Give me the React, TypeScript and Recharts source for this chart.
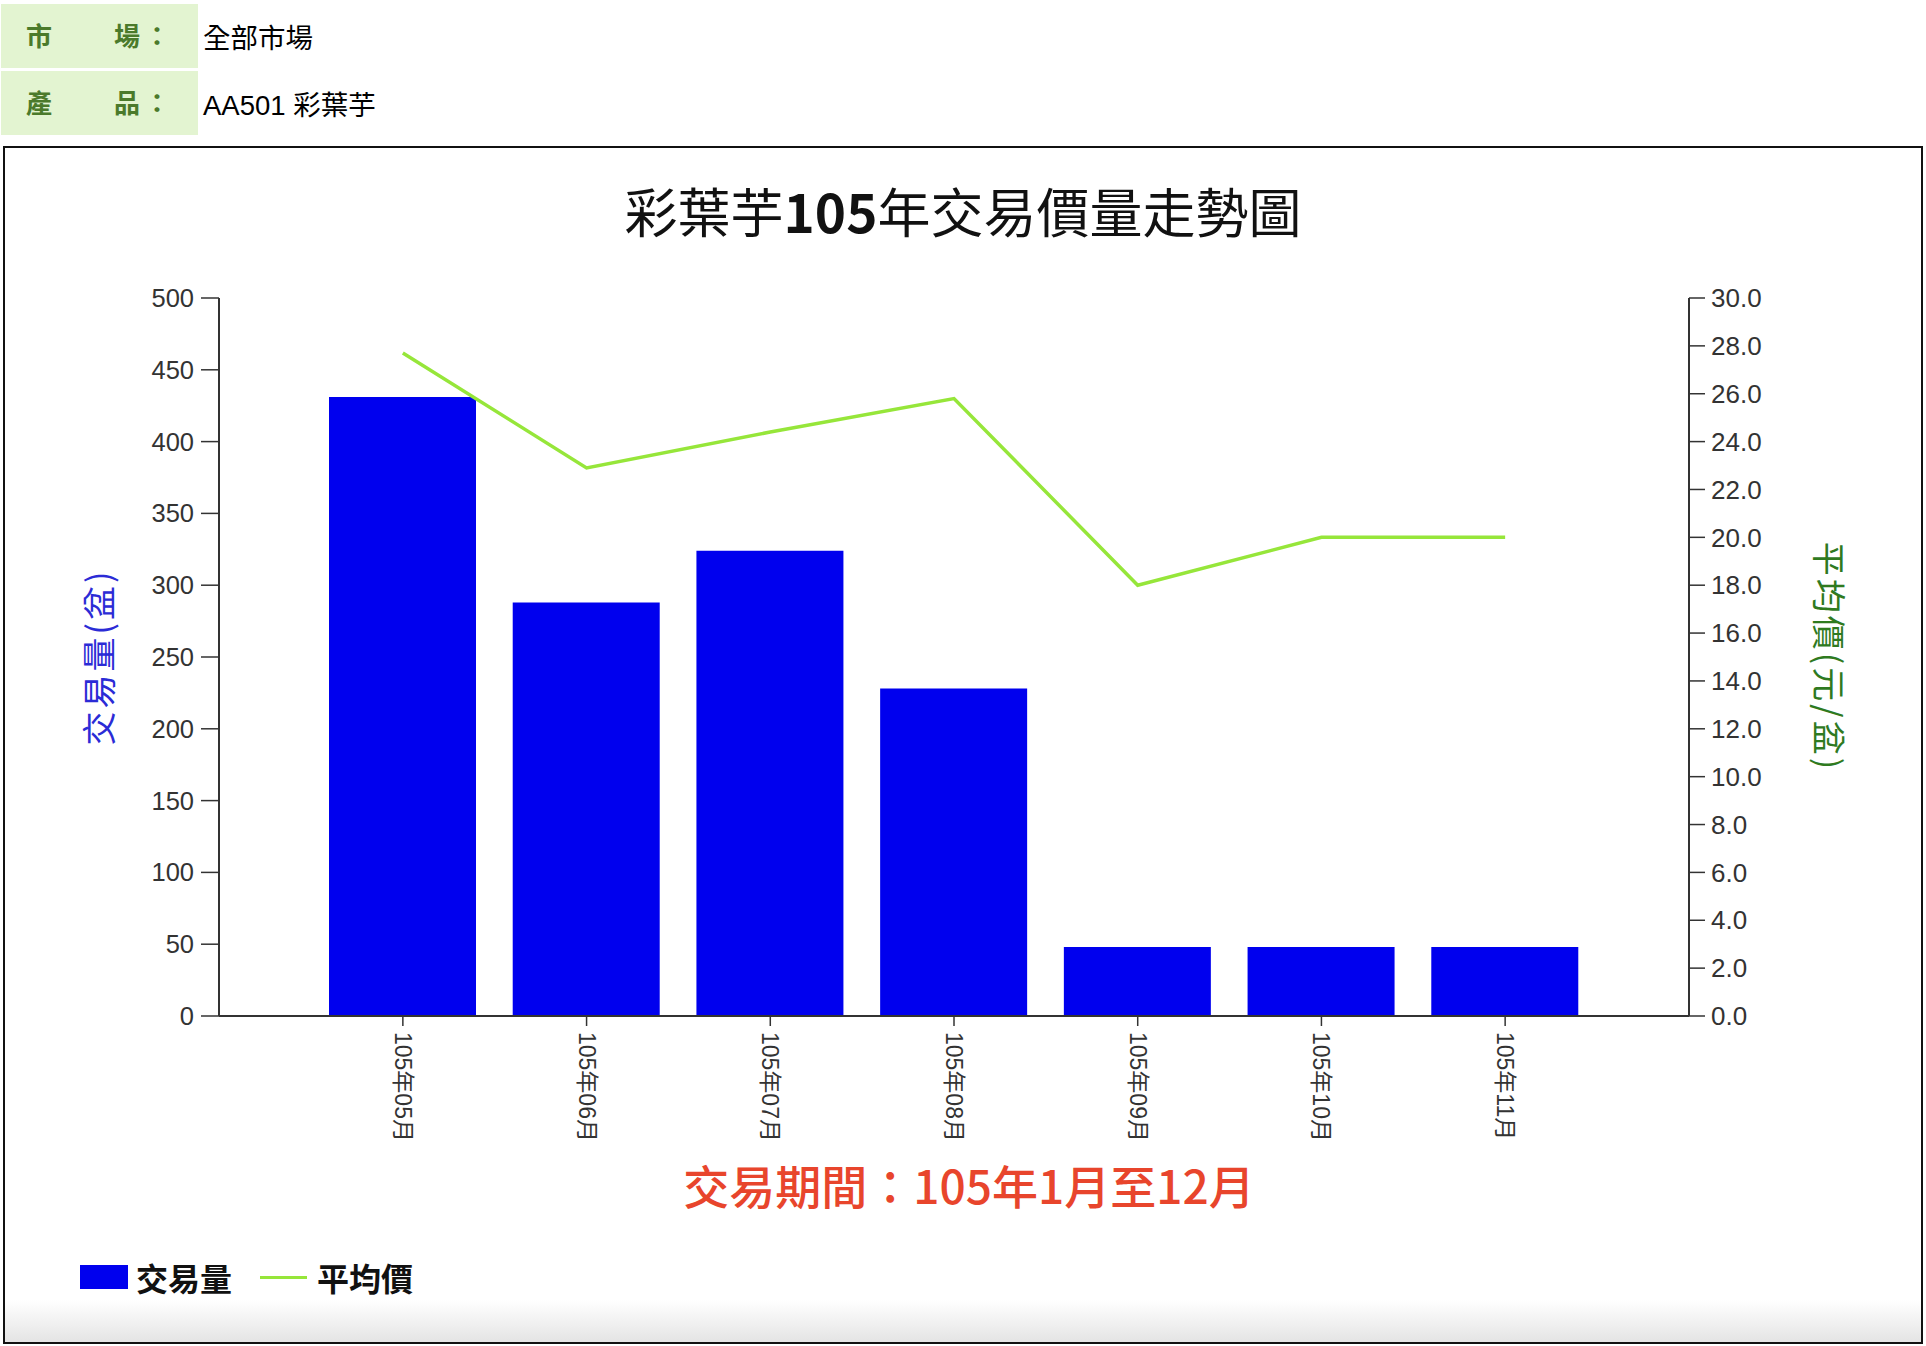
import React from "react";
import { ComposedChart, Bar, Line, XAxis, YAxis, Label } from "recharts";

const months = [
	"105年05月",
	"105年06月",
	"105年07月",
	"105年08月",
	"105年09月",
	"105年10月",
	"105年11月",
];
const volume = [431, 288, 324, 228, 48, 48, 48];
const avgPrice = [27.7, 22.9, 24.4, 25.8, 18.0, 20.0, 20.0];
const volumeTicks = [0, 50, 100, 150, 200, 250, 300, 350, 400, 450, 500];
const priceTicks = [0, 2, 4, 6, 8, 10, 12, 14, 16, 18, 20, 22, 24, 26, 28, 30];

const data = months.map((month, i) => ({
	month,
	volume: volume[i],
	price: avgPrice[i],
}));

const CJK = '"Noto Sans CJK TC", "Noto Sans", sans-serif';
const LATIN = '"Liberation Sans", Arial, "Noto Sans CJK TC", sans-serif';
const AXIS = "#333";

const MonthTick = (props: any) => {
	const { x, y, payload } = props;
	return (
		<text
			transform={`translate(${x},${y}) rotate(90)`}
			textAnchor="start"
			dominantBaseline="central"
			fontSize={23}
			fill="#333"
			fontFamily={LATIN}
		>
			{payload.value}
		</text>
	);
};

const axisLabel = (text: string, color: string, dx: number, angle: number) =>
	(props: any) => {
		const vb = props.viewBox || {};
		const cx = vb.x + dx;
		const cy = vb.y + vb.height / 2;
		return (
			<text
				x={cx}
				y={cy}
				transform={`rotate(${angle},${cx},${cy})`}
				textAnchor="middle"
				dominantBaseline="central"
				fontSize={34}
				letterSpacing={3}
				fill={color}
				fontFamily={CJK}
			>
				{text}
			</text>
		);
	};

const headerCell: React.CSSProperties = {
	position: "absolute",
	left: 1,
	width: 197,
	background: "#e3f4d1",
	color: "#4b7a2b",
	fontFamily: CJK,
	fontWeight: 700,
	fontSize: 26,
};

const HeaderRow = ({ top, a, b, value }: any) => (
	<>
		<div style={{ ...headerCell, top, height: 64 }}>
			<span style={{ position: "absolute", left: 25, top: 12 }}>{a}</span>
			<span style={{ position: "absolute", left: 113, top: 12 }}>{b}</span>
			<span style={{ position: "absolute", left: 143, top: 12 }}>：</span>
		</div>
		<div
			style={{
				position: "absolute",
				left: 203,
				top: top + 12,
				fontFamily: LATIN,
				fontSize: 27.5,
				color: "#000",
			}}
		>
			{value}
		</div>
	</>
);

export default function App() {
	return (
		<div
			style={{
				position: "absolute",
				left: 0,
				top: 0,
				width: 1926,
				height: 1346,
				background: "#fff",
				overflow: "hidden",
			}}
		>
			<HeaderRow top={4} a="市" b="場" value="全部市場" />
			<HeaderRow top={71} a="產" b="品" value="AA501 彩葉芋" />

			<div
				style={{
					position: "absolute",
					left: 3,
					top: 146,
					width: 1916,
					height: 1194,
					border: "2px solid #111",
					background:
						"linear-gradient(to bottom, #ffffff 0%, #ffffff 96.5%, #e4e4e4 100%)",
				}}
			/>

			<div
				style={{
					position: "absolute",
					left: 0,
					top: 182,
					width: 1926,
					textAlign: "center",
					fontFamily: CJK,
					fontSize: 53,
					color: "#111",
					lineHeight: "56px",
					boxSizing: "border-box",
				}}
			>
				彩葉芋<b>105</b>年交易價量走勢圖
			</div>

			<div style={{ position: "absolute", left: 0, top: 0 }}>
				<ComposedChart
					width={1926}
					height={1346}
					data={data}
					margin={{ top: 298, right: 117, bottom: 200, left: 99 }}
				>
					<XAxis
						dataKey="month"
						type="category"
						height={130}
						padding={{ left: 92, right: 92 }}
						axisLine={{ stroke: AXIS, strokeWidth: 2 }}
						tickLine={{ stroke: AXIS, strokeWidth: 1.5 }}
						tickSize={10}
						tickMargin={6}
						tick={<MonthTick />}
						interval={0}
					/>
					<YAxis
						yAxisId="left"
						orientation="left"
						width={120}
						domain={[0, 500]}
						ticks={volumeTicks}
						interval={0}
						axisLine={{ stroke: AXIS, strokeWidth: 2 }}
						tickLine={{ stroke: AXIS, strokeWidth: 1.5 }}
						tickSize={18}
						tickMargin={7}
						tick={{ fill: "#333", fontSize: 25.5, fontFamily: LATIN }}
					>
						<Label content={axisLabel("交易量(盆)", "#2b2bd6", -2, -90)} />
					</YAxis>
					<YAxis
						yAxisId="right"
						orientation="right"
						width={120}
						domain={[0, 30]}
						ticks={priceTicks}
						interval={0}
						tickFormatter={(v: number) => v.toFixed(1)}
						axisLine={{ stroke: AXIS, strokeWidth: 2 }}
						tickLine={{ stroke: AXIS, strokeWidth: 1.5 }}
						tickSize={16}
						tickMargin={6}
						tick={{ fill: "#333", fontSize: 26, fontFamily: LATIN }}
					>
						<Label content={axisLabel("平均價(元/盆)", "#2f7a1f", 141, 90)} />
					</YAxis>
					<Bar
						yAxisId="left"
						dataKey="volume"
						name="交易量"
						fill="#0000ee"
						barSize={147}
						isAnimationActive={false}
					/>
					<Line
						yAxisId="right"
						dataKey="price"
						name="平均價"
						type="linear"
						stroke="#96e63a"
						strokeWidth={3.5}
						dot={false}
						activeDot={false}
						isAnimationActive={false}
					/>
				</ComposedChart>
			</div>

			<div
				style={{
					position: "absolute",
					left: 0,
					top: 1156,
					width: 1926,
					textAlign: "center",
					fontFamily: CJK,
					fontSize: 46,
					fontWeight: 500,
					color: "#e8452c",
					lineHeight: "56px",
					paddingLeft: 12,
					boxSizing: "border-box",
				}}
			>
				交易期間：105年1月至12月
			</div>

			<div
				style={{
					position: "absolute",
					left: 80,
					top: 1254,
					display: "flex",
					alignItems: "center",
					fontFamily: CJK,
					fontSize: 32,
					fontWeight: 700,
					color: "#111",
				}}
			>
				<span
					style={{
						display: "inline-block",
						width: 48,
						height: 24,
						background: "#0000ee",
						marginRight: 8,
					}}
				/>
				<span>交易量</span>
				<span
					style={{
						display: "inline-block",
						width: 47,
						height: 3,
						background: "#96e63a",
						marginLeft: 28,
						marginRight: 10,
					}}
				/>
				<span>平均價</span>
			</div>
		</div>
	);
}
